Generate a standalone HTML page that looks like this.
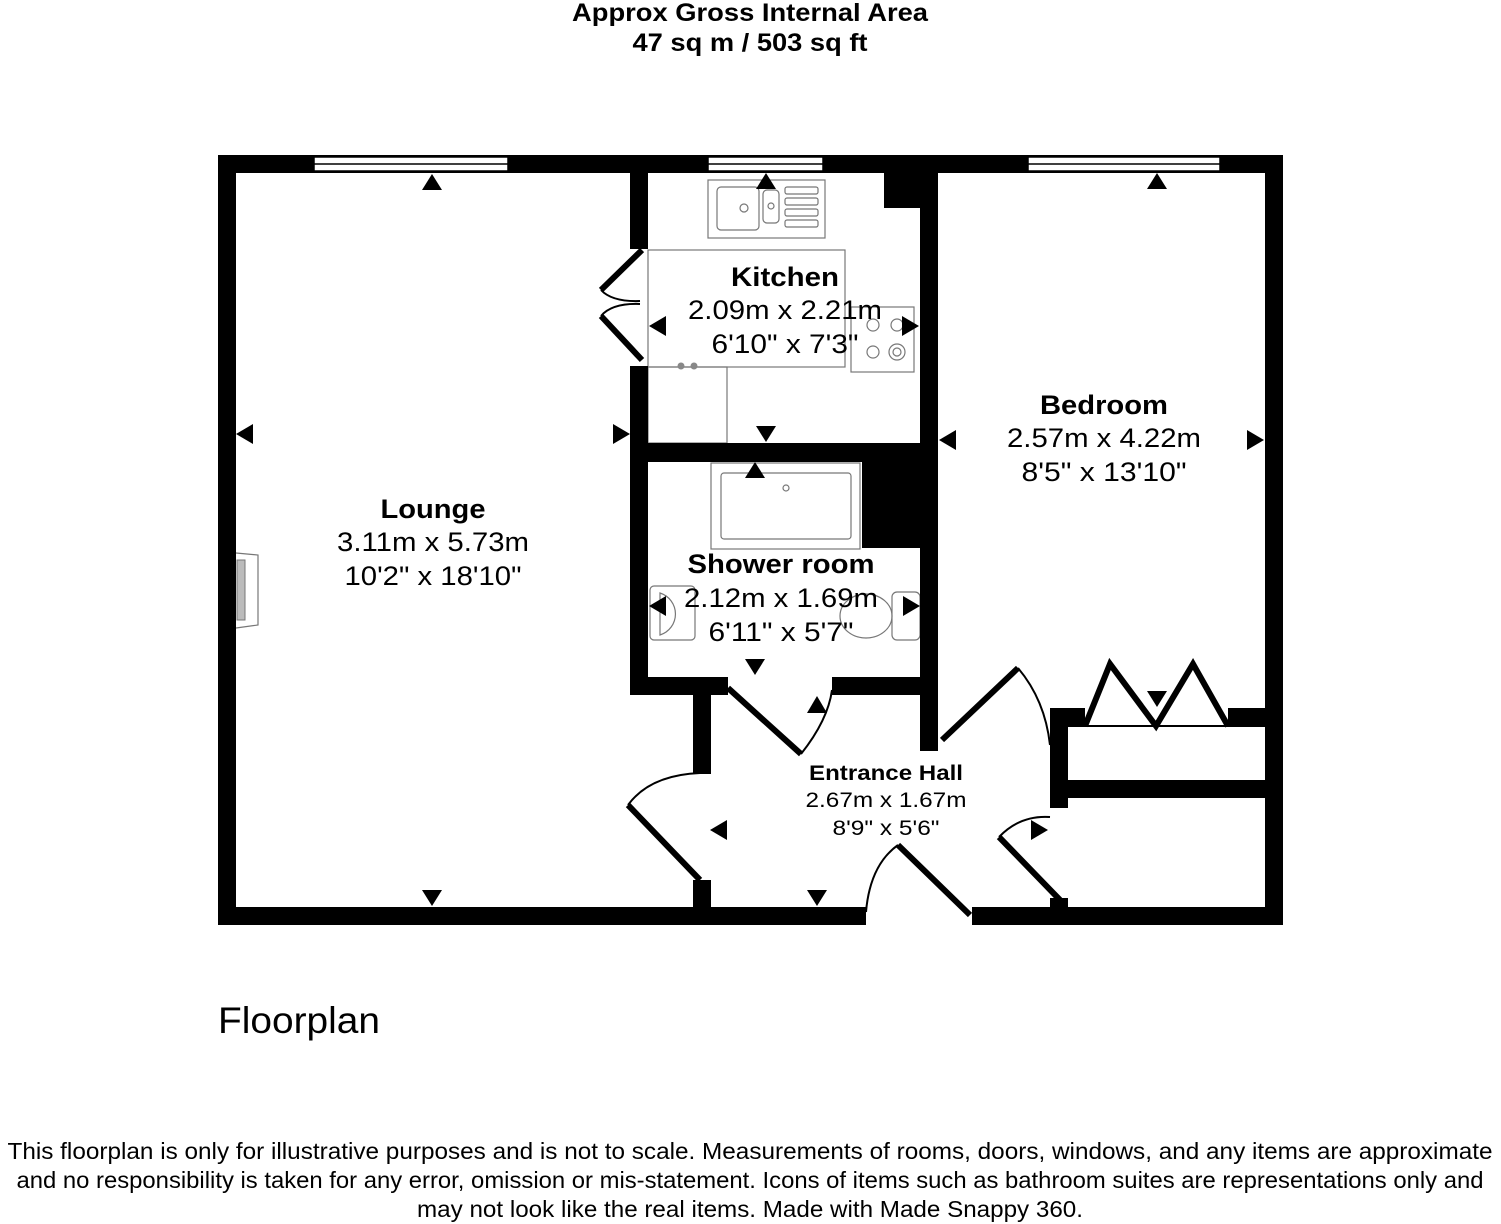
<!DOCTYPE html>
<html><head><meta charset="utf-8"><style>
html,body{margin:0;padding:0;background:#fff;}
body{width:1501px;height:1224px;position:relative;overflow:hidden;font-family:"Liberation Sans",Arial,sans-serif;}
</style></head><body>
<svg width="1501" height="1224" viewBox="0 0 1501 1224" xmlns="http://www.w3.org/2000/svg" style="position:absolute;left:0;top:0">
<g font-family="Liberation Sans, Arial, sans-serif" text-anchor="middle" fill="#000" lengthAdjust="spacingAndGlyphs">
<text x="750" y="21" font-size="25" font-weight="bold" textLength="356" lengthAdjust="spacingAndGlyphs">Approx Gross Internal Area</text>
<text x="750" y="51" font-size="25" font-weight="bold" textLength="235" lengthAdjust="spacingAndGlyphs">47 sq m / 503 sq ft</text>
</g>
<!-- fixtures -->
<g fill="none" stroke="#777" stroke-width="1.2">
<rect x="708" y="180" width="117" height="58"/>
<rect x="717" y="187" width="42" height="43" rx="4"/>
<rect x="763" y="190" width="16" height="33" rx="4"/>
<rect x="785" y="187" width="33" height="7" rx="2"/><rect x="785" y="198" width="33" height="7" rx="2"/><rect x="785" y="209" width="33" height="7" rx="2"/><rect x="785" y="220" width="33" height="7" rx="2"/>
<circle cx="744" cy="208" r="4"/><circle cx="771" cy="206" r="3"/>
<rect x="648" y="250" width="197" height="117"/>
<rect x="648" y="367" width="79" height="76"/>
<rect x="851" y="307" width="63" height="65"/>
<circle cx="873" cy="325" r="6"/><circle cx="897" cy="325" r="6"/><circle cx="873" cy="352" r="6"/><circle cx="897" cy="352" r="8"/><circle cx="897" cy="352" r="4"/>
<rect x="711" y="463" width="149" height="86"/>
<rect x="721" y="473" width="130" height="66" rx="3"/>
<circle cx="786" cy="488" r="3"/>
<rect x="650" y="586" width="45" height="54" rx="4"/>
<path d="M660 593 a22 22 0 0 1 0 42 z"/>
<ellipse cx="866" cy="616" rx="26" ry="22"/>
<rect x="892" y="592" width="28" height="48" rx="5"/>
<path d="M236 553 L258 555 L258 625 L236 628"/>
</g>
<rect x="237" y="560" width="8" height="60" fill="#bbb" stroke="#777"/>
<circle cx="681" cy="366" r="3.5" fill="#888"/><circle cx="694" cy="366" r="3.5" fill="#888"/>
<!-- walls -->
<g fill="#000">
<rect x="218" y="155" width="1065" height="18"/>
<rect x="218" y="155" width="18" height="770"/>
<rect x="1265" y="155" width="18" height="770"/>
<rect x="218" y="907" width="648" height="18"/>
<rect x="972" y="907" width="311" height="18"/>
<rect x="630" y="173" width="18" height="76"/>
<rect x="630" y="366" width="18" height="329"/>
<rect x="630" y="443" width="290" height="19"/>
<rect x="884" y="173" width="36" height="35"/>
<rect x="862" y="462" width="58" height="86"/>
<rect x="920" y="173" width="18" height="578"/>
<rect x="630" y="677" width="98" height="18"/>
<rect x="832" y="677" width="88" height="18"/>
<rect x="693" y="695" width="18" height="79"/>
<rect x="693" y="880" width="18" height="30"/>
<rect x="1050" y="708" width="18" height="100"/>
<rect x="1050" y="708" width="35" height="18"/>
<rect x="1228" y="708" width="37" height="18"/>
<rect x="1068" y="780" width="197" height="18"/>
<rect x="1050" y="898" width="18" height="12"/>
</g>
<!-- windows -->
<g fill="#fff" stroke="#000" stroke-width="1.5">
<rect x="314" y="157" width="194" height="14"/><line x1="314" y1="164" x2="508" y2="164"/>
<rect x="708" y="157" width="115" height="14"/><line x1="708" y1="164" x2="823" y2="164"/>
<rect x="1028" y="157" width="192" height="14"/><line x1="1028" y1="164" x2="1220" y2="164"/>
</g>
<!-- doors -->
<g stroke="#000" fill="none">
<g stroke-width="6">
<path d="M642 250 L601 290"/>
<path d="M642 360 L601 316"/>
<path d="M728 688 L801 754"/>
<path d="M700 880 L628 805"/>
<path d="M970 915 L898 845"/>
<path d="M942 740 L1018 668"/>
<path d="M1060 900 L999 837"/>
<path d="M1085 726 L1110 664 L1156 726 L1193 664 L1228 726"/>
</g>
<g stroke-width="2">
<path d="M601 290 Q612 302 640 301"/>
<path d="M601 316 Q612 303 640 304"/>
<path d="M801 754 Q828 720 832 690"/>
<path d="M628 805 Q650 775 700 773"/>
<path d="M866 912 Q870 865 898 845"/>
<path d="M1018 668 Q1045 700 1050 745"/>
<path d="M999 837 Q1020 815 1050 817"/>
<line x1="1068" y1="726" x2="1265" y2="726"/>
</g>
</g>
<!-- arrows -->
<g fill="#000">
<path d="M432 174 l-10 16 h20z"/><path d="M432 906 l-10 -16 h20z"/><path d="M236 434 l17 -10 v20z"/><path d="M630 434 l-17 -10 v20z"/>
<path d="M766 173 l-10 16 h20z"/><path d="M766 442 l-10 -16 h20z"/><path d="M649 326 l17 -10 v20z"/><path d="M919 326 l-17 -10 v20z"/>
<path d="M1157 173 l-10 16 h20z"/><path d="M1157 707 l-10 -16 h20z"/><path d="M939 440 l17 -10 v20z"/><path d="M1264 440 l-17 -10 v20z"/>
<path d="M755 462 l-10 16 h20z"/><path d="M755 675 l-10 -16 h20z"/><path d="M649 606 l17 -10 v20z"/><path d="M920 606 l-17 -10 v20z"/>
<path d="M817 696 l-10 17 h20z"/><path d="M817 906 l-10 -16 h20z"/><path d="M710 830 l17 -10 v20z"/><path d="M1048 830 l-17 -10 v20z"/>
</g>
<g font-family="Liberation Sans, Arial, sans-serif" text-anchor="middle" fill="#000">
<text x="433" y="518" font-size="27" font-weight="bold" textLength="105" lengthAdjust="spacingAndGlyphs">Lounge</text>
<text x="433" y="551" font-size="27" textLength="192" lengthAdjust="spacingAndGlyphs">3.11m x 5.73m</text>
<text x="433" y="585" font-size="27" textLength="177" lengthAdjust="spacingAndGlyphs">10'2" x 18'10"</text>
<text x="785" y="286" font-size="27" font-weight="bold" textLength="108" lengthAdjust="spacingAndGlyphs">Kitchen</text>
<text x="785" y="319" font-size="27" textLength="194" lengthAdjust="spacingAndGlyphs">2.09m x 2.21m</text>
<text x="785" y="353" font-size="27" textLength="147" lengthAdjust="spacingAndGlyphs">6'10" x 7'3"</text>
<text x="1104" y="414" font-size="27" font-weight="bold" textLength="128" lengthAdjust="spacingAndGlyphs">Bedroom</text>
<text x="1104" y="447" font-size="27" textLength="194" lengthAdjust="spacingAndGlyphs">2.57m x 4.22m</text>
<text x="1104" y="481" font-size="27" textLength="165" lengthAdjust="spacingAndGlyphs">8'5" x 13'10"</text>
<text x="781" y="573" font-size="27" font-weight="bold" textLength="187" lengthAdjust="spacingAndGlyphs">Shower room</text>
<text x="781" y="607" font-size="27" textLength="194" lengthAdjust="spacingAndGlyphs">2.12m x 1.69m</text>
<text x="781" y="641" font-size="27" textLength="145" lengthAdjust="spacingAndGlyphs">6'11" x 5'7"</text>
<text x="886" y="780" font-size="21" font-weight="bold" textLength="154" lengthAdjust="spacingAndGlyphs">Entrance Hall</text>
<text x="886" y="807" font-size="21" textLength="161" lengthAdjust="spacingAndGlyphs">2.67m x 1.67m</text>
<text x="886" y="835" font-size="21" textLength="107" lengthAdjust="spacingAndGlyphs">8'9" x 5'6"</text>
<text x="218" y="1033" font-size="37" text-anchor="start" textLength="162" lengthAdjust="spacingAndGlyphs">Floorplan</text>
<text x="750" y="1159" font-size="23" textLength="1485" lengthAdjust="spacingAndGlyphs">This floorplan is only for illustrative purposes and is not to scale. Measurements of rooms, doors, windows, and any items are approximate</text>
<text x="750" y="1188" font-size="23" textLength="1467" lengthAdjust="spacingAndGlyphs">and no responsibility is taken for any error, omission or mis-statement. Icons of items such as bathroom suites are representations only and</text>
<text x="750" y="1217" font-size="23" textLength="666" lengthAdjust="spacingAndGlyphs">may not look like the real items. Made with Made Snappy 360.</text>
</g>
</svg>
</body></html>
